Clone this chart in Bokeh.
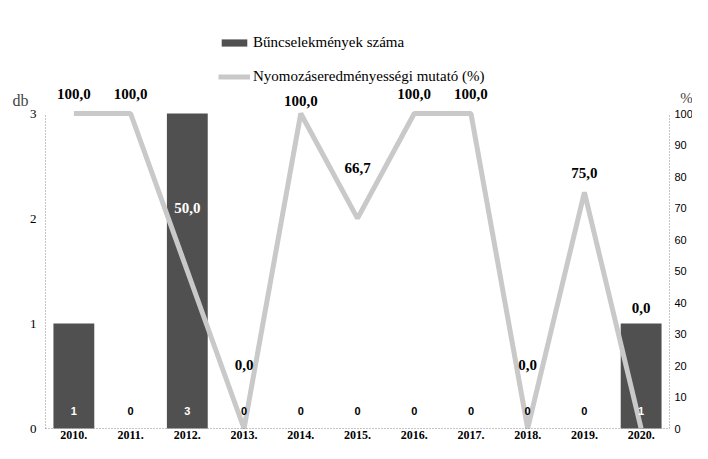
from bokeh.plotting import figure
from bokeh.models import (Range1d, LinearAxis, Legend, LegendItem, Label,
                          FixedTicker, ColumnDataSource)
from bokeh.core.properties import value
from bokeh.embed import file_html
from bokeh.resources import INLINE

years = ["2010.", "2011.", "2012.", "2013.", "2014.", "2015.",
         "2016.", "2017.", "2018.", "2019.", "2020."]
crimes = [1, 0, 3, 0, 0, 0, 0, 0, 0, 0, 1]
rate = [100.0, 100.0, 50.0, 0.0, 100.0, 66.7, 100.0, 100.0, 0.0, 75.0, 0.0]
rate_text = ["100,0", "100,0", "50,0", "0,0", "100,0", "66,7",
             "100,0", "100,0", "0,0", "75,0", "0,0"]
left_ticks = [0, 1, 2, 3]
right_ticks = [0, 10, 20, 30, 40, 50, 60, 70, 80, 90, 100]

# label placement (pixels above each point) - styling only
label_lift = [20, 20, 63, 64, 13, 50, 20, 20, 64, 19, 121]

SERIF = "Liberation Serif"
BAR_COLOR = "#505050"
LINE_COLOR = "#c9c9c9"

# layout (pixels)
W, H = 692, 443
AX_LEFT, AX_RIGHT = 45, 669     # canvas x of the two value axes
ZERO_Y = 428                    # canvas y of value 0
TOP_VALUE_Y = 113               # canvas y of the top tick (3 db / 100 %)
n = len(years)
px_per_cat = (AX_RIGHT - AX_LEFT) / n
x_start = -0.5 - AX_LEFT / px_per_cat
x_end = n - 0.5 + (W - AX_RIGHT) / px_per_cat
scale = (ZERO_Y - TOP_VALUE_Y) / 3.0
y_start = (ZERO_Y - H) / scale
y_end = ZERO_Y / scale
pct = 100.0 / 3.0

xs = list(range(n))
src = ColumnDataSource(dict(
    x=xs, crimes=crimes, rate=rate, rate_text=rate_text,
    rate_dy=[-v for v in label_lift],
    rate_color=["white" if (c > 0 and 0 < r < 100) else "black"
                for c, r in zip(crimes, rate)],
    count_text=[str(c) for c in crimes],
    count_color=["white" if c > 0 else "black" for c in crimes],
    zero=[0] * n,
))

p = figure(width=W, height=H, output_backend="svg", toolbar_location=None,
           x_range=Range1d(x_start, x_end), y_range=Range1d(y_start, y_end),
           min_border_left=0, min_border_right=0, min_border_top=0,
           min_border_bottom=0, x_axis_location=None, y_axis_location=None)
p.extra_y_ranges = {"pct": Range1d(y_start * pct, y_end * pct)}

bars = p.vbar(x="x", top="crimes", width=0.72, source=src,
              fill_color=BAR_COLOR, line_color=None)
line = p.line(x="x", y="rate", source=src, y_range_name="pct",
              line_color=LINE_COLOR, line_width=5)

# value labels of the line
p.text(x="x", y="rate", text="rate_text", source=src, y_range_name="pct",
       y_offset="rate_dy", text_align="center", text_baseline="middle",
       text_font=value(SERIF), text_font_style="bold",
       text_font_size="15px", text_color="rate_color")

# count labels at the bar bases
p.text(x="x", y="zero", text="count_text", source=src, y_offset=-18,
       text_align="center", text_baseline="middle",
       text_font=value("Liberation Sans"), text_font_style="bold",
       text_font_size="11px", text_color="count_color")

p.xgrid.grid_line_color = None
p.ygrid.grid_line_color = None
p.outline_line_color = None


def style_axis(ax, font, size, standoff):
    ax.major_label_text_font = font
    ax.major_label_text_font_size = size
    ax.major_label_text_color = "black"
    ax.major_label_standoff = standoff
    ax.major_tick_out = 0
    ax.major_tick_in = 0
    ax.major_tick_line_color = None
    ax.minor_tick_line_color = None
    ax.axis_line_color = "#8a8a8a"
    ax.axis_line_dash = "1 2"


xa = LinearAxis(ticker=FixedTicker(ticks=xs), bounds=(-0.5, n - 0.5),
                fixed_location=0)
xa.major_label_overrides = {i: y for i, y in enumerate(years)}
style_axis(xa, SERIF, "12px", 2)
xa.major_label_text_font_style = "bold"
p.add_layout(xa, "below")

la = LinearAxis(ticker=FixedTicker(ticks=left_ticks), bounds=(0, 3),
                fixed_location=-0.5)
style_axis(la, SERIF, "13px", 9)
p.add_layout(la, "left")

ra = LinearAxis(y_range_name="pct", ticker=FixedTicker(ticks=right_ticks),
                bounds=(0, 100), fixed_location=n - 0.5)
style_axis(ra, "Liberation Sans", "11px", 5)
p.add_layout(ra, "right")

# unit labels
p.add_layout(Label(x=-0.94, y=(ZERO_Y - 100) / scale, text="db",
                   text_font=SERIF, text_font_size="16px",
                   text_align="center", text_baseline="middle"))
p.add_layout(Label(x=10.8, y=(ZERO_Y - 97) / scale, text="%",
                   text_font=SERIF, text_font_size="15px",
                   text_align="center", text_baseline="middle"))

legend = Legend(items=[
    LegendItem(label="Bűncselekmények száma", renderers=[bars]),
    LegendItem(label="Nyomozáseredményességi mutató (%)", renderers=[line]),
], location=(218, H - 85))
legend.label_text_font = SERIF
legend.label_text_font_size = "15px"
legend.label_text_color = "black"
legend.glyph_width = 32
legend.glyph_height = 9
legend.label_standoff = 3
legend.spacing = 17
legend.padding = 0
legend.margin = 0
legend.border_line_color = None
legend.background_fill_alpha = 0
p.add_layout(legend, "center")

open("out.html", "w").write(file_html(p, INLINE))
